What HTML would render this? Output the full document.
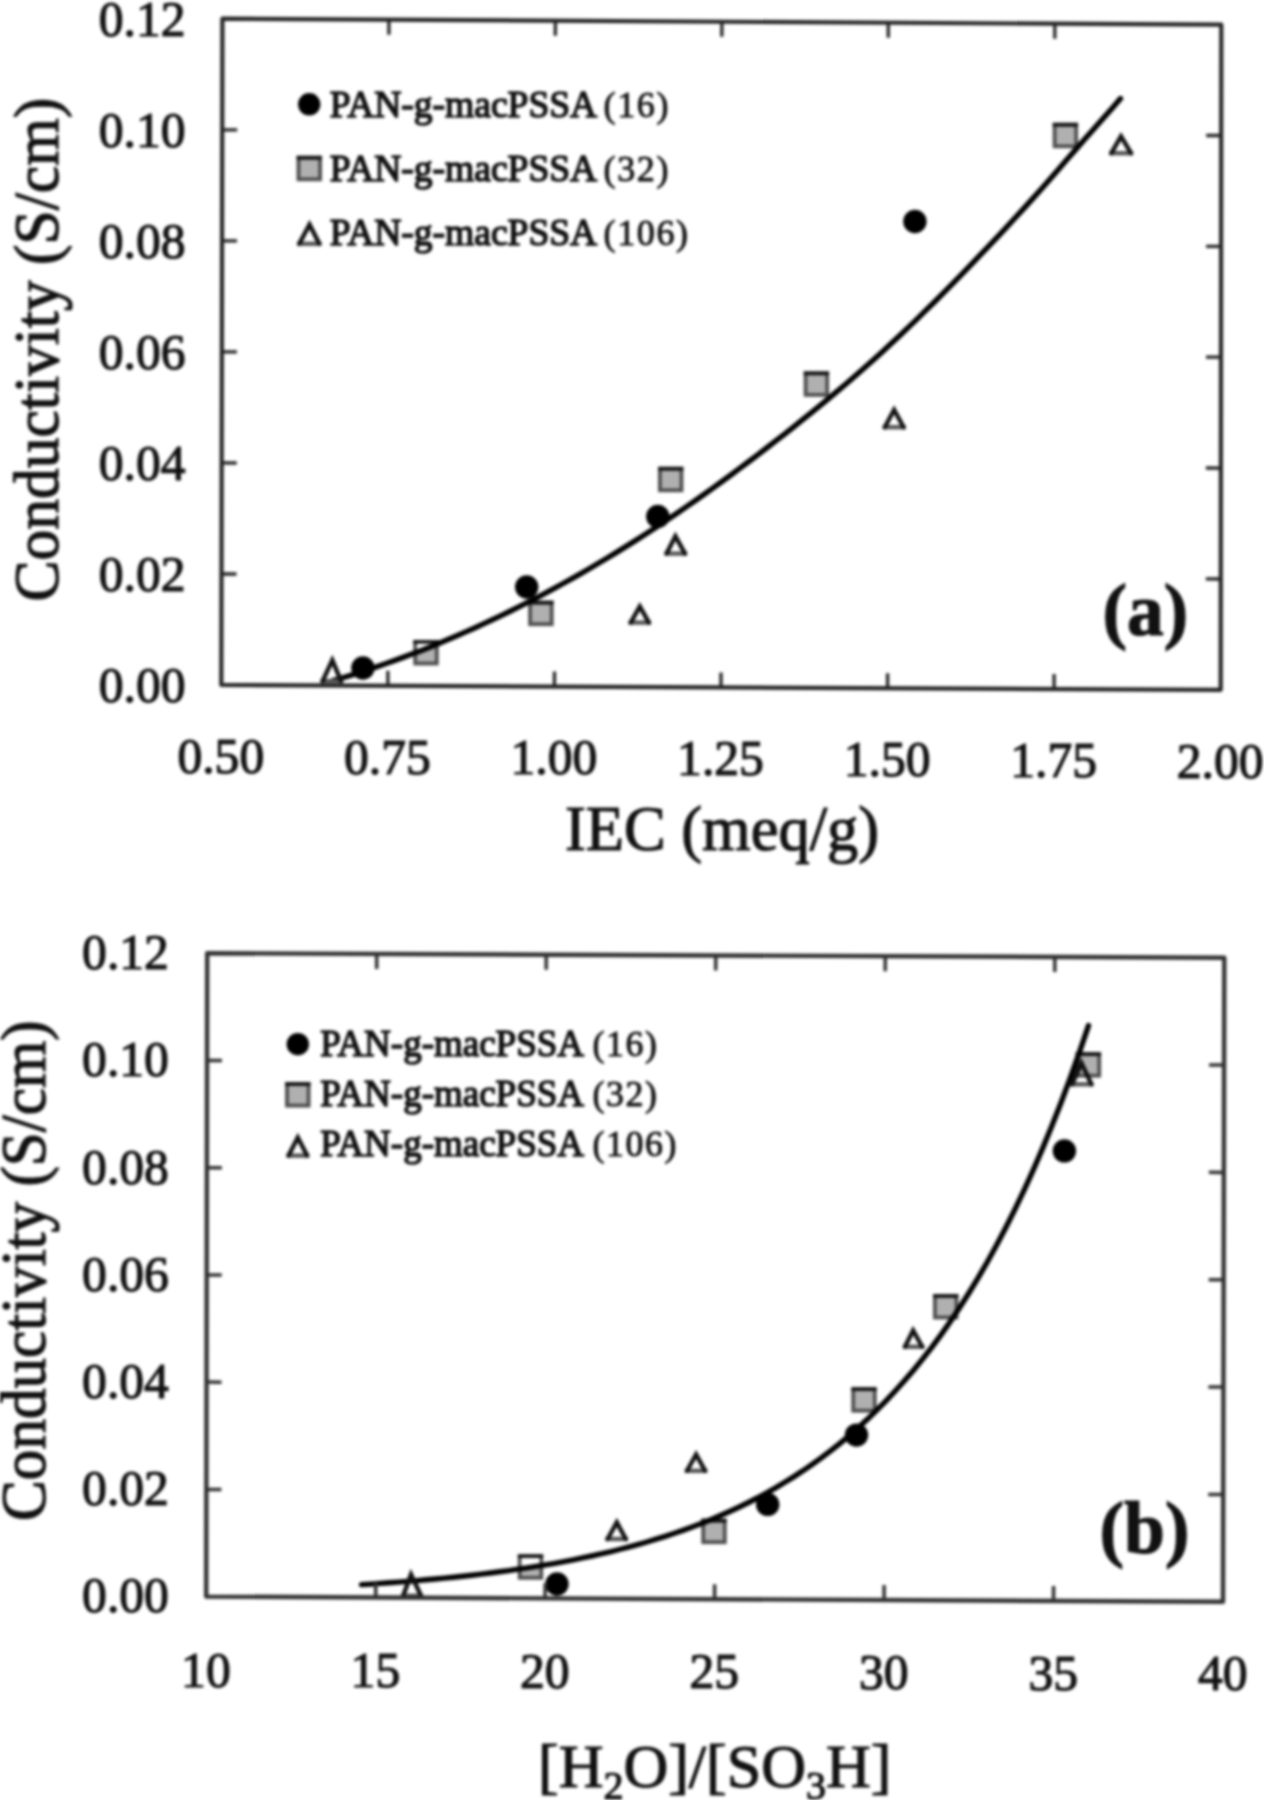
<!DOCTYPE html>
<html><head><meta charset="utf-8"><title>Conductivity plots</title>
<style>
html,body{margin:0;padding:0;background:#fff;}
body{width:1264px;height:1800px;overflow:hidden;position:relative;}
svg{position:absolute;left:0;top:0;display:block;filter:blur(1.6px);}
text{font-family:"Liberation Serif", "DejaVu Serif", serif;fill:#111;stroke:#111;stroke-width:1.2px;}
.lg{stroke-width:1.5px;}
.ln{stroke-width:0.9px;}
</style></head><body>
<svg width="1264" height="1800" viewBox="0 0 1264 1800">
<rect x="-5" y="-5" width="1274" height="1810" fill="#fff"/>
<rect x="415.2" y="641.9" width="21.6" height="21.6" fill="#b0b0b0" stroke="#4e4e4e" stroke-width="3.8"/>
<path d="M413.3,641.9H438.7" stroke="#141414" stroke-width="3.8" fill="none"/>
<rect x="530.1" y="602.6" width="21.6" height="21.6" fill="#b0b0b0" stroke="#4e4e4e" stroke-width="3.8"/>
<path d="M528.2,602.6H553.6" stroke="#141414" stroke-width="3.8" fill="none"/>
<rect x="659.9" y="468.7" width="21.6" height="21.6" fill="#b0b0b0" stroke="#4e4e4e" stroke-width="3.8"/>
<path d="M658.0,468.7H683.4" stroke="#141414" stroke-width="3.8" fill="none"/>
<rect x="805.6" y="373.3" width="21.6" height="21.6" fill="#b0b0b0" stroke="#4e4e4e" stroke-width="3.8"/>
<path d="M803.7,373.3H829.1" stroke="#141414" stroke-width="3.8" fill="none"/>
<rect x="1054.6" y="124.7" width="21.6" height="21.6" fill="#b0b0b0" stroke="#4e4e4e" stroke-width="3.8"/>
<path d="M1052.7,124.7H1078.1" stroke="#141414" stroke-width="3.8" fill="none"/>
<clipPath id="ca1"><rect x="417.1" y="643.8" width="17.8" height="17.8"/></clipPath>
<polygon clip-path="url(#ca1)" points="401.0,622.7 406.2,656.2 408.1,655.5 410.1,654.7 412.1,654.0 414.1,653.2 416.1,652.5 418.0,651.7 420.0,650.9 422.0,650.2 424.0,649.4 425.9,648.6 427.9,647.8 429.9,647.0 431.9,646.2 433.8,645.4 435.8,644.6 437.8,643.8 439.8,643.0 441.8,642.2 443.7,641.4 445.7,640.5 451.0,622.7" fill="#fff"/>
<path d="M333.0,680.6L341.8,678.0L350.7,675.3L359.5,672.5L368.4,669.6L377.2,666.6L386.1,663.5L394.9,660.4L403.8,657.1L412.6,653.8L421.5,650.4L430.3,646.9L439.2,643.3L448.0,639.6L456.9,635.8L465.7,631.9L474.6,628.0L483.4,623.9L492.3,619.8L501.1,615.6L510.0,611.3L518.8,606.9L527.7,602.4L536.5,597.8L545.4,593.1L554.2,588.4L563.1,583.5L571.9,578.6L580.8,573.6L589.6,568.5L598.4,563.3L607.3,558.0L616.1,552.6L625.0,547.1L633.8,541.6L642.7,535.9L651.5,530.2L660.4,524.4L669.2,518.5L678.1,512.5L686.9,506.4L695.8,500.2L704.6,494.0L713.5,487.6L722.3,481.2L731.2,474.7L740.0,468.2L748.9,461.5L757.7,454.8L766.6,448.0L775.4,441.2L784.3,434.3L793.1,427.3L802.0,420.2L810.8,413.1L819.7,405.9L828.5,398.6L837.4,391.2L846.2,383.7L855.1,376.0L863.9,368.3L872.7,360.4L881.6,352.4L890.4,344.3L899.3,336.0L908.1,327.6L917.0,319.1L925.8,310.4L934.7,301.7L943.5,292.8L952.4,283.8L961.2,274.8L970.1,265.6L978.9,256.4L987.8,247.1L996.6,237.8L1005.5,228.4L1014.3,218.8L1023.2,209.2L1032.0,199.4L1040.9,189.5L1049.7,179.4L1058.6,169.2L1067.4,159.1L1076.3,148.9L1085.1,138.8L1094.0,128.8L1102.8,118.8L1111.7,108.7L1120.5,98.6" fill="none" stroke="#000" stroke-width="5.4" stroke-linecap="round"/>
<circle cx="362.9" cy="668.0" r="11.7" fill="#000"/>
<circle cx="526.7" cy="587.0" r="11.7" fill="#000"/>
<circle cx="657.8" cy="516.4" r="11.7" fill="#000"/>
<circle cx="914.9" cy="221.5" r="11.7" fill="#000"/>
<path d="M322.6,681.1H341.1" fill="none" stroke="#555" stroke-width="4.4" stroke-linecap="square"/>
<path d="M322.6,681.1L332.3,660.1L341.1,681.1" fill="none" stroke="#111" stroke-width="4.4" stroke-linejoin="miter" stroke-linecap="round"/>
<path d="M630.7,622.6H648.9" fill="none" stroke="#555" stroke-width="4.4" stroke-linecap="square"/>
<path d="M630.7,622.6L639.8,606.4L648.9,622.6" fill="none" stroke="#111" stroke-width="4.4" stroke-linejoin="miter" stroke-linecap="round"/>
<path d="M666.6,553.6H685.0" fill="none" stroke="#555" stroke-width="4.4" stroke-linecap="square"/>
<path d="M666.6,553.6L675.4,536.3L685.0,553.6" fill="none" stroke="#111" stroke-width="4.4" stroke-linejoin="miter" stroke-linecap="round"/>
<path d="M884.8,427.2H903.6" fill="none" stroke="#555" stroke-width="4.4" stroke-linecap="square"/>
<path d="M884.8,427.2L894.1,409.8L903.6,427.2" fill="none" stroke="#111" stroke-width="4.4" stroke-linejoin="miter" stroke-linecap="round"/>
<path d="M1111.3,153.2H1131.0" fill="none" stroke="#555" stroke-width="4.4" stroke-linecap="square"/>
<path d="M1111.3,153.2L1121.0,136.4L1131.0,153.2" fill="none" stroke="#111" stroke-width="4.4" stroke-linejoin="miter" stroke-linecap="round"/>
<polygon points="222.4,18.7 1221.3,24.7 1220.7,689.8 221.3,685.0" fill="none" stroke="#242424" stroke-width="4.2" stroke-linejoin="round"/>
<path d="M388.9,19.7L388.9,34.7M387.9,685.8L387.9,670.8M222.2,129.8L237.2,129.8M1221.2,135.5L1206.2,135.5M555.4,20.7L555.3,35.7M554.4,686.6L554.5,671.6M222.0,240.8L237.0,240.9M1221.1,246.4L1206.1,246.3M721.9,21.7L721.8,36.7M721.0,687.4L721.0,672.4M221.9,351.9L236.9,351.9M1221.0,357.2L1206.0,357.2M888.3,22.7L888.3,37.7M887.6,688.2L887.6,673.2M221.7,462.9L236.7,463.0M1220.9,468.1L1205.9,468.0M1054.8,23.7L1054.8,38.7M1054.1,689.0L1054.1,674.0M221.5,574.0L236.5,574.0M1220.8,579.0L1205.8,578.9" fill="none" stroke="#242424" stroke-width="3.3000000000000003"/>
<text x="185.5" y="35.5" font-size="49.6" text-anchor="end" font-weight="normal" >0.12</text>
<text x="185.5" y="146.6" font-size="49.6" text-anchor="end" font-weight="normal" >0.10</text>
<text x="185.5" y="257.6" font-size="49.6" text-anchor="end" font-weight="normal" >0.08</text>
<text x="185.5" y="368.7" font-size="49.6" text-anchor="end" font-weight="normal" >0.06</text>
<text x="185.5" y="479.7" font-size="49.6" text-anchor="end" font-weight="normal" >0.04</text>
<text x="185.5" y="590.8" font-size="49.6" text-anchor="end" font-weight="normal" >0.02</text>
<text x="185.5" y="701.8" font-size="49.6" text-anchor="end" font-weight="normal" >0.00</text>
<text x="220.8" y="772.5" font-size="49.6" text-anchor="middle" font-weight="normal" >0.50</text>
<text x="387.4" y="773.5" font-size="49.6" text-anchor="middle" font-weight="normal" >0.75</text>
<text x="553.9" y="774.4" font-size="49.6" text-anchor="middle" font-weight="normal" >1.00</text>
<text x="720.5" y="775.4" font-size="49.6" text-anchor="middle" font-weight="normal" >1.25</text>
<text x="887.1" y="776.3" font-size="49.6" text-anchor="middle" font-weight="normal" >1.50</text>
<text x="1053.6" y="777.2" font-size="49.6" text-anchor="middle" font-weight="normal" >1.75</text>
<text x="1220.2" y="778.2" font-size="49.6" text-anchor="middle" font-weight="normal" >2.00</text>
<text x="565.0" y="849.8" font-size="62.5" text-anchor="start" font-weight="normal" >IEC (meq/g)</text>
<text transform="translate(58,601.4) rotate(-90) scale(1,1.03)" font-size="61.5">Conductivity (S/cm)</text>
<text x="1102.6" y="635.3" font-size="73.5" text-anchor="start" font-weight="bold" >(a)</text>
<text x="329.8" y="117.3" font-size="37.5" text-anchor="start" font-weight="normal" class="lg">PAN-g-macPSSA</text>
<text x="603.6" y="117.3" font-size="36" text-anchor="start" font-weight="normal" class="ln" letter-spacing="1.6">(16)</text>
<text x="329.8" y="181.0" font-size="37.5" text-anchor="start" font-weight="normal" class="lg">PAN-g-macPSSA</text>
<text x="603.6" y="181.0" font-size="36" text-anchor="start" font-weight="normal" class="ln" letter-spacing="1.6">(32)</text>
<text x="329.8" y="245.0" font-size="37.5" text-anchor="start" font-weight="normal" class="lg">PAN-g-macPSSA</text>
<text x="603.6" y="245.0" font-size="36" text-anchor="start" font-weight="normal" class="ln" letter-spacing="1.6">(106)</text>
<circle cx="309.2" cy="104.3" r="11.2" fill="#000"/>
<rect x="298.5" y="157.7" width="21.6" height="21.6" fill="#b0b0b0" stroke="#4e4e4e" stroke-width="3.8"/>
<path d="M296.6,157.7H322.0" stroke="#141414" stroke-width="3.8" fill="none"/>
<path d="M299.3,243.8H319.3" fill="none" stroke="#555" stroke-width="4.4" stroke-linecap="square"/>
<path d="M299.3,243.8L309.5,224.5L319.3,243.8" fill="none" stroke="#111" stroke-width="4.4" stroke-linejoin="miter" stroke-linecap="round"/>
<rect x="519.7" y="1556.2" width="21.6" height="21.6" fill="#b0b0b0" stroke="#4e4e4e" stroke-width="3.8"/>
<path d="M517.8,1556.2H543.2" stroke="#141414" stroke-width="3.8" fill="none"/>
<rect x="703.2" y="1520.6" width="21.6" height="21.6" fill="#b0b0b0" stroke="#4e4e4e" stroke-width="3.8"/>
<path d="M701.3,1520.6H726.7" stroke="#141414" stroke-width="3.8" fill="none"/>
<rect x="853.2" y="1389.1" width="21.6" height="21.6" fill="#b0b0b0" stroke="#4e4e4e" stroke-width="3.8"/>
<path d="M851.3,1389.1H876.7" stroke="#141414" stroke-width="3.8" fill="none"/>
<rect x="934.9" y="1295.9" width="21.6" height="21.6" fill="#b0b0b0" stroke="#4e4e4e" stroke-width="3.8"/>
<path d="M933.0,1295.9H958.4" stroke="#141414" stroke-width="3.8" fill="none"/>
<rect x="1077.6" y="1054.1" width="21.6" height="21.6" fill="#b0b0b0" stroke="#4e4e4e" stroke-width="3.8"/>
<path d="M1075.7,1054.1H1101.1" stroke="#141414" stroke-width="3.8" fill="none"/>
<clipPath id="cb1"><rect x="521.6" y="1558.1" width="17.8" height="17.8"/></clipPath>
<polygon clip-path="url(#cb1)" points="505.5,1537.0 511.9,1570.1 513.7,1569.9 515.5,1569.6 517.3,1569.3 519.2,1569.1 521.0,1568.8 522.8,1568.5 524.7,1568.2 526.5,1568.0 528.3,1567.7 530.2,1567.4 532.0,1567.1 533.8,1566.8 535.6,1566.5 537.5,1566.2 539.3,1565.9 541.1,1565.6 543.0,1565.3 544.8,1565.0 546.6,1564.7 548.4,1564.4 550.3,1564.1 555.5,1537.0" fill="#fff"/>
<path d="M361.5,1584.6L370.7,1584.1L379.9,1583.4L389.1,1582.8L398.3,1582.1L407.5,1581.4L416.7,1580.6L425.9,1579.8L435.1,1579.0L444.3,1578.1L453.5,1577.2L462.7,1576.2L471.9,1575.2L481.1,1574.1L490.3,1573.0L499.5,1571.8L508.7,1570.6L517.9,1569.2L527.1,1567.9L536.3,1566.4L545.6,1564.9L554.8,1563.3L564.0,1561.6L573.2,1559.8L582.4,1557.9L591.6,1556.0L600.8,1553.9L610.0,1551.8L619.2,1549.5L628.4,1547.1L637.6,1544.6L646.8,1542.0L656.0,1539.2L665.2,1536.3L674.4,1533.3L683.6,1530.1L692.8,1526.7L702.0,1523.2L711.2,1519.5L720.4,1515.6L729.6,1511.5L738.8,1507.2L748.0,1502.7L757.2,1498.0L766.4,1493.0L775.6,1487.8L784.8,1482.3L794.0,1476.6L803.2,1470.6L812.4,1464.2L821.6,1457.6L830.8,1450.6L840.0,1443.3L849.2,1435.6L858.4,1427.5L867.6,1419.1L876.8,1410.2L886.0,1400.8L895.2,1391.0L904.4,1380.8L913.7,1370.0L922.9,1358.6L932.1,1346.8L941.3,1334.3L950.5,1321.2L959.7,1307.4L968.9,1293.0L978.1,1277.9L987.3,1262.0L996.5,1245.3L1005.7,1227.8L1014.9,1209.4L1024.1,1190.1L1033.3,1169.9L1042.5,1148.6L1051.7,1126.3L1060.9,1102.9L1070.1,1078.4L1079.3,1052.6L1088.5,1025.6" fill="none" stroke="#000" stroke-width="5.4" stroke-linecap="round"/>
<circle cx="557.0" cy="1584.0" r="11.7" fill="#000"/>
<circle cx="767.7" cy="1504.4" r="11.7" fill="#000"/>
<circle cx="856.5" cy="1435.1" r="11.7" fill="#000"/>
<circle cx="1064.4" cy="1150.9" r="11.7" fill="#000"/>
<path d="M403.2,1595.8H421.0" fill="none" stroke="#555" stroke-width="4.4" stroke-linecap="square"/>
<path d="M403.2,1595.8L411.0,1574.4L421.0,1595.8" fill="none" stroke="#111" stroke-width="4.4" stroke-linejoin="miter" stroke-linecap="round"/>
<path d="M607.6,1539.0H625.8" fill="none" stroke="#555" stroke-width="4.4" stroke-linecap="square"/>
<path d="M607.6,1539.0L616.8,1522.4L625.8,1539.0" fill="none" stroke="#111" stroke-width="4.4" stroke-linejoin="miter" stroke-linecap="round"/>
<path d="M687.0,1470.8H705.1" fill="none" stroke="#555" stroke-width="4.4" stroke-linecap="square"/>
<path d="M687.0,1470.8L696.1,1454.5L705.1,1470.8" fill="none" stroke="#111" stroke-width="4.4" stroke-linejoin="miter" stroke-linecap="round"/>
<path d="M905.0,1346.8H922.2" fill="none" stroke="#555" stroke-width="4.4" stroke-linecap="square"/>
<path d="M905.0,1346.8L913.1,1330.5L922.2,1346.8" fill="none" stroke="#111" stroke-width="4.4" stroke-linejoin="miter" stroke-linecap="round"/>
<path d="M1072.1,1084.3H1091.4" fill="none" stroke="#555" stroke-width="4.4" stroke-linecap="square"/>
<path d="M1072.1,1084.3L1081.5,1063.0L1091.4,1084.3" fill="none" stroke="#111" stroke-width="4.4" stroke-linejoin="miter" stroke-linecap="round"/>
<polygon points="207.2,953.2 1224.3,957.7 1223.0,1601.8 206.2,1596.6" fill="none" stroke="#303030" stroke-width="4.4" stroke-linejoin="round"/>
<path d="M376.7,954.0L376.7,969.0M375.7,1597.5L375.7,1582.5M207.0,1060.4L222.0,1060.5M1224.1,1065.0L1209.1,1065.0M546.2,954.7L546.2,969.7M545.1,1598.3L545.2,1583.3M206.9,1167.7L221.9,1167.7M1223.9,1172.4L1208.9,1172.3M715.8,955.5L715.7,970.5M714.6,1599.2L714.6,1584.2M206.7,1274.9L221.7,1275.0M1223.7,1279.8L1208.7,1279.7M885.3,956.2L885.2,971.2M884.1,1600.1L884.1,1585.1M206.5,1382.1L221.5,1382.2M1223.4,1387.1L1208.4,1387.0M1054.8,957.0L1054.8,972.0M1053.5,1600.9L1053.6,1585.9M206.4,1489.4L221.4,1489.4M1223.2,1494.4L1208.2,1494.4" fill="none" stroke="#303030" stroke-width="3.5000000000000004"/>
<text x="168.9" y="969.0" font-size="49.6" text-anchor="end" font-weight="normal" >0.12</text>
<text x="168.9" y="1076.2" font-size="49.6" text-anchor="end" font-weight="normal" >0.10</text>
<text x="168.9" y="1183.5" font-size="49.6" text-anchor="end" font-weight="normal" >0.08</text>
<text x="168.9" y="1290.7" font-size="49.6" text-anchor="end" font-weight="normal" >0.06</text>
<text x="168.9" y="1397.9" font-size="49.6" text-anchor="end" font-weight="normal" >0.04</text>
<text x="168.9" y="1505.2" font-size="49.6" text-anchor="end" font-weight="normal" >0.02</text>
<text x="168.9" y="1612.4" font-size="49.6" text-anchor="end" font-weight="normal" >0.00</text>
<text x="205.9" y="1686.6" font-size="49.6" text-anchor="middle" font-weight="normal" >10</text>
<text x="375.4" y="1687.2" font-size="49.6" text-anchor="middle" font-weight="normal" >15</text>
<text x="544.8" y="1687.7" font-size="49.6" text-anchor="middle" font-weight="normal" >20</text>
<text x="714.3" y="1688.3" font-size="49.6" text-anchor="middle" font-weight="normal" >25</text>
<text x="883.8" y="1688.9" font-size="49.6" text-anchor="middle" font-weight="normal" >30</text>
<text x="1053.2" y="1689.5" font-size="49.6" text-anchor="middle" font-weight="normal" >35</text>
<text x="1222.7" y="1690.1" font-size="49.6" text-anchor="middle" font-weight="normal" >40</text>
<text x="538" y="1786.5" font-size="62">[H<tspan font-size="40" dy="12">2</tspan><tspan dy="-12">O]/[SO</tspan><tspan font-size="40" dy="12">3</tspan><tspan dy="-12">H]</tspan></text>
<text transform="translate(44.6,1520.9) rotate(-90) scale(1,1.03)" font-size="61.1">Conductivity (S/cm)</text>
<text x="1099.6" y="1553.2" font-size="73.5" text-anchor="start" font-weight="bold" >(b)</text>
<text x="320.2" y="1056.0" font-size="37.0" text-anchor="start" font-weight="normal" class="lg">PAN-g-macPSSA</text>
<text x="592.4" y="1056.0" font-size="35.8" text-anchor="start" font-weight="normal" class="ln" letter-spacing="1.6">(16)</text>
<text x="320.2" y="1106.0" font-size="37.0" text-anchor="start" font-weight="normal" class="lg">PAN-g-macPSSA</text>
<text x="592.4" y="1106.0" font-size="35.8" text-anchor="start" font-weight="normal" class="ln" letter-spacing="1.6">(32)</text>
<text x="320.2" y="1156.4" font-size="37.0" text-anchor="start" font-weight="normal" class="lg">PAN-g-macPSSA</text>
<text x="592.4" y="1156.4" font-size="35.8" text-anchor="start" font-weight="normal" class="ln" letter-spacing="1.6">(106)</text>
<circle cx="297.8" cy="1044.2" r="11.2" fill="#000"/>
<rect x="287.0" y="1084.0" width="21.6" height="21.6" fill="#b0b0b0" stroke="#4e4e4e" stroke-width="3.8"/>
<path d="M285.1,1084.0H310.5" stroke="#141414" stroke-width="3.8" fill="none"/>
<path d="M288.6,1155.6H307.1" fill="none" stroke="#555" stroke-width="4.4" stroke-linecap="square"/>
<path d="M288.6,1155.6L297.8,1137.5L307.1,1155.6" fill="none" stroke="#111" stroke-width="4.4" stroke-linejoin="miter" stroke-linecap="round"/>
</svg>
</body></html>
